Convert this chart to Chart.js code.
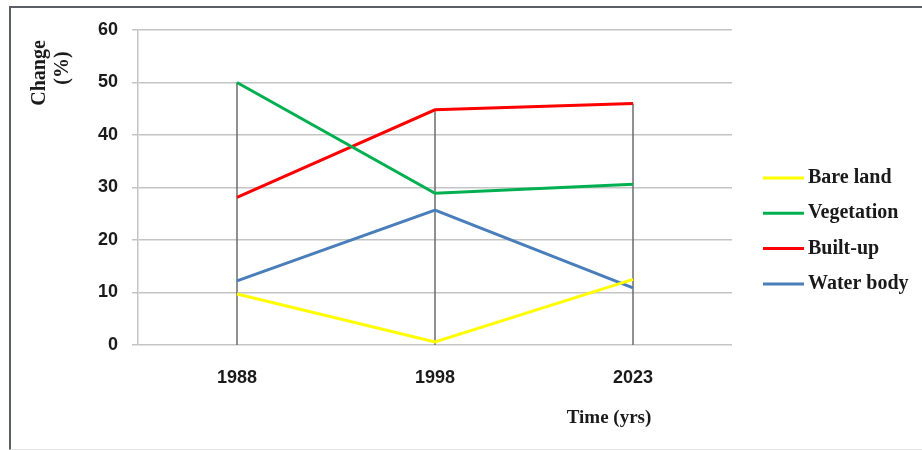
<!DOCTYPE html>
<html>
<head>
<meta charset="utf-8">
<script src="https://cdn.jsdelivr.net/npm/chart.js@4.4.1/dist/chart.umd.min.js"></script>
<style>
  html, body { margin: 0; padding: 0; background: #fff; }
  .frame {
    position: absolute; left: 9px; top: 6px; width: 940px; height: 441px;
    border-top: 2px solid #5b5f66; border-left: 2px solid #5b5f66;
    border-bottom: 1px solid #e4e4e4;
  }
  .wrap { position: absolute; left: 0; top: 0; width: 922px; height: 450px; }
</style>
</head>
<body>
<div class="frame"></div>
<div class="wrap"><canvas id="chart" width="922" height="450"></canvas></div>
<script>
// valores
const years = ["1988", "1998", "2023"];
const bareLand = [9.7, 0.6, 12.5];
const vegetation = [50, 28.9, 30.6];
const builtUp = [28.1, 44.8, 46.0];
const waterBody = [12.2, 25.7, 10.9];

const seriesNames = ["Bare land", "Vegetation", "Built-up", "Water body"];
const seriesColors = ["#ffff00", "#00b050", "#ff0000", "#4a7ebb"];

const serif = "'Liberation Serif', 'Times New Roman', serif";
const sans = "'Liberation Sans', Arial, sans-serif";

// linhas verticais do máximo até o zero em cada ano
const dropLines = {
  id: "dropLines",
  beforeDatasetsDraw(chart) {
    const { ctx } = chart;
    const xs = chart.scales.x;
    const ys = chart.scales.y;
    ctx.save();
    ctx.strokeStyle = "#6b6b6b";
    ctx.lineWidth = 1.5;
    chart.data.labels.forEach((_l, i) => {
      const max = Math.max(...chart.data.datasets.map((d) => d.data[i]));
      const x = xs.getPixelForValue(i);
      ctx.beginPath();
      ctx.moveTo(x, ys.getPixelForValue(max));
      ctx.lineTo(x, ys.getPixelForValue(0));
      ctx.stroke();
    });
    ctx.restore();
  },
};

// títulos dos eixos e legenda
const extras = {
  id: "extras",
  afterDraw(chart) {
    const { ctx, chartArea } = chart;
    ctx.save();
    ctx.fillStyle = "#1a1a1a";

    // título do eixo y
    ctx.font = "bold 20px " + serif;
    ctx.textAlign = "center";
    ctx.textBaseline = "middle";
    ctx.save();
    ctx.translate(chartArea.left - 98, 73);
    ctx.rotate(-Math.PI / 2);
    ctx.fillText("Change", 0, 0);
    ctx.restore();
    ctx.save();
    ctx.translate(chartArea.left - 75, 68);
    ctx.rotate(-Math.PI / 2);
    ctx.fillText("(%)", 0, 0);
    ctx.restore();

    // título do eixo x
    ctx.font = "bold 19px " + serif;
    ctx.fillText("Time (yrs)", 609, 418);

    // legenda
    ctx.font = "bold 20px " + serif;
    ctx.textAlign = "left";
    chart.data.datasets.forEach((ds, i) => {
      const y = 178 + i * 35.3;
      ctx.strokeStyle = ds.borderColor;
      ctx.lineWidth = 3;
      ctx.beginPath();
      ctx.moveTo(763, y);
      ctx.lineTo(804, y);
      ctx.stroke();
      ctx.fillText(ds.label, 808, y);
    });
    ctx.restore();
  },
};

const series = [bareLand, vegetation, builtUp, waterBody];

new Chart(document.getElementById("chart"), {
  type: "line",
  data: {
    labels: years,
    datasets: series.map((data, i) => ({
      label: seriesNames[i],
      data,
      borderColor: seriesColors[i],
      backgroundColor: seriesColors[i],
      borderWidth: 3,
      pointRadius: 0,
      tension: 0,
    })),
  },
  plugins: [dropLines, extras],
  options: {
    responsive: false,
    animation: false,
    events: [],
    layout: { padding: { top: 30, right: 190, left: 0, bottom: 0 } },
    plugins: {
      legend: { display: false },
      tooltip: { enabled: false },
    },
    scales: {
      x: {
        offset: true,
        grid: { display: false, drawTicks: false },
        border: { display: false },
        ticks: {
          color: "#1a1a1a",
          padding: 22,
          font: { family: sans, size: 18, weight: "bold" },
        },
        afterFit(scale) { scale.height = 105; },
      },
      y: {
        min: 0,
        max: 60,
        ticks: {
          stepSize: 10,
          color: "#1a1a1a",
          padding: 14,
          font: { family: sans, size: 18, weight: "bold" },
        },
        grid: { color: "#c4c4c4", lineWidth: 1.5, tickLength: 6 },
        border: { display: true, color: "#c4c4c4", width: 1.5 },
        afterFit(scale) { scale.width = 138; },
      },
    },
  },
});
</script>
</body>
</html>
